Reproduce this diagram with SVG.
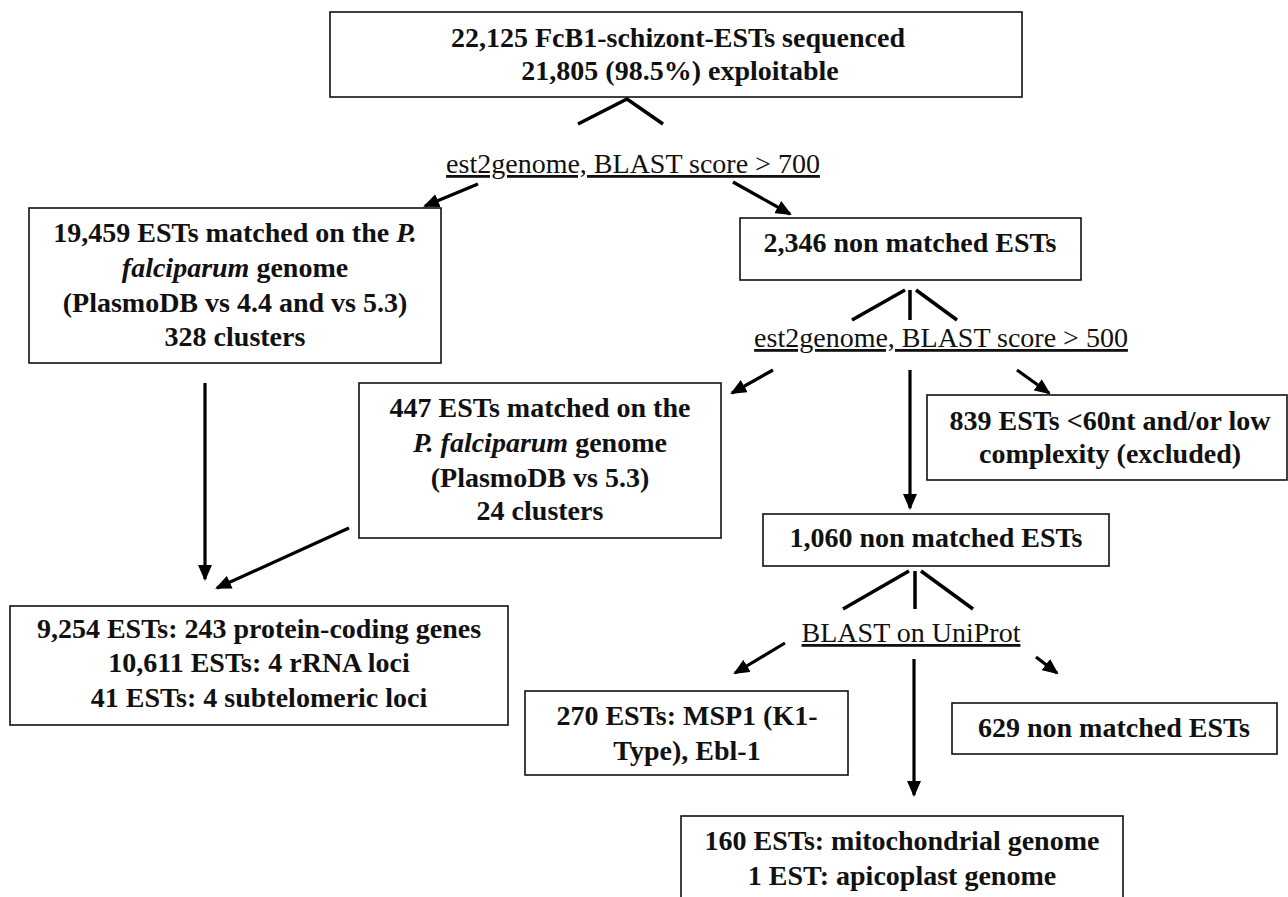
<svg xmlns="http://www.w3.org/2000/svg" width="1288" height="897" viewBox="0 0 1288 897">
<defs>
<marker id="ah" markerUnits="userSpaceOnUse" markerWidth="16" markerHeight="14" refX="14" refY="7" orient="auto">
<path d="M0,0 L16,7 L0,14 Z" fill="#000"/>
</marker>
<style>
.box{fill:#fff;stroke:#111;stroke-width:1.6}
.t{font-family:"Liberation Serif",serif;font-weight:bold;font-size:28px;fill:#111;text-anchor:middle}
.l{font-family:"Liberation Serif",serif;font-size:28px;fill:#111;text-anchor:middle;text-decoration:underline}
.ln{stroke:#000;stroke-width:3.5;fill:none}
.ar{stroke:#000;stroke-width:3.2;fill:none;marker-end:url(#ah)}
</style>
</defs>
<rect width="1288" height="897" fill="#fff"/>
<g id="connectors">
<path class="ln" d="M578,124 L627,99 L663,124"/>
<line class="ar" x1="478" y1="184" x2="425" y2="206"/>
<line class="ar" x1="733" y1="182" x2="790" y2="214"/>
<path class="ln" d="M852,320 L905,290"/>
<line class="ln" x1="910" y1="290" x2="910" y2="320"/>
<path class="ln" d="M916,290 L957,320"/>
<line class="ar" x1="773" y1="370" x2="732" y2="393"/>
<line class="ar" x1="910" y1="370" x2="910" y2="508"/>
<line class="ar" x1="1017" y1="370" x2="1049" y2="393"/>
<line class="ar" x1="205" y1="383" x2="205" y2="579"/>
<line class="ar" x1="349" y1="528" x2="217" y2="588"/>
<path class="ln" d="M843,609 L909,571"/>
<line class="ln" x1="915" y1="571" x2="915" y2="609"/>
<path class="ln" d="M921,571 L973,609"/>
<line class="ar" x1="785" y1="643" x2="735" y2="673"/>
<line class="ar" x1="914" y1="659" x2="914" y2="795"/>
<line class="ar" x1="1036" y1="657" x2="1057" y2="673"/>
</g>
<g id="label1"><text class="l" x="633" y="173">est2genome, BLAST score &gt; 700</text></g>
<g id="label2"><text class="l" x="941" y="347">est2genome, BLAST score &gt; 500</text></g>
<g id="label3"><text class="l" x="911" y="642">BLAST on UniProt</text></g>
<g id="n1">
<rect class="box" x="330" y="12" width="692" height="85"/>
<text class="t" x="678" y="47">22,125 FcB1-schizont-ESTs sequenced</text>
<text class="t" x="680" y="80">21,805 (98.5%) exploitable</text>
</g>
<g id="n2">
<rect class="box" x="29" y="208" width="412" height="155"/>
<text class="t" x="235" y="242">19,459 ESTs matched on the <tspan font-style="italic">P.</tspan></text>
<text class="t" x="235" y="277"><tspan font-style="italic">falciparum</tspan> genome</text>
<text class="t" x="235" y="312">(PlasmoDB vs 4.4 and vs 5.3)</text>
<text class="t" x="235" y="346">328 clusters</text>
</g>
<g id="n3">
<rect class="box" x="740" y="218" width="341" height="62"/>
<text class="t" x="910" y="252">2,346 non matched ESTs</text>
</g>
<g id="n4">
<rect class="box" x="359" y="383" width="362" height="155"/>
<text class="t" x="540" y="417">447 ESTs matched on the</text>
<text class="t" x="540" y="452"><tspan font-style="italic">P. falciparum</tspan> genome</text>
<text class="t" x="540" y="487">(PlasmoDB vs 5.3)</text>
<text class="t" x="540" y="520">24 clusters</text>
</g>
<g id="n5">
<rect class="box" x="927" y="395" width="360" height="85"/>
<text class="t" x="1110" y="430">839 ESTs &lt;60nt and/or low</text>
<text class="t" x="1110" y="463">complexity  (excluded)</text>
</g>
<g id="n6">
<rect class="box" x="763" y="514" width="346" height="52"/>
<text class="t" x="936" y="547">1,060 non matched ESTs</text>
</g>
<g id="n7">
<rect class="box" x="10" y="606" width="498" height="119"/>
<text class="t" x="259" y="638">9,254 ESTs: 243 protein-coding genes</text>
<text class="t" x="259" y="672">10,611 ESTs: 4 rRNA loci</text>
<text class="t" x="259" y="707">41 ESTs: 4 subtelomeric loci</text>
</g>
<g id="n8">
<rect class="box" x="525" y="691" width="323" height="84"/>
<text class="t" x="687" y="725">270 ESTs: MSP1 (K1-</text>
<text class="t" x="687" y="760">Type), Ebl-1</text>
</g>
<g id="n9">
<rect class="box" x="952" y="703" width="325" height="51"/>
<text class="t" x="1114" y="737">629 non matched ESTs</text>
</g>
<g id="n10">
<rect class="box" x="681" y="816" width="442" height="100"/>
<text class="t" x="902" y="850">160 ESTs: mitochondrial genome</text>
<text class="t" x="902" y="885">1 EST: apicoplast genome</text>
</g>
</svg>
